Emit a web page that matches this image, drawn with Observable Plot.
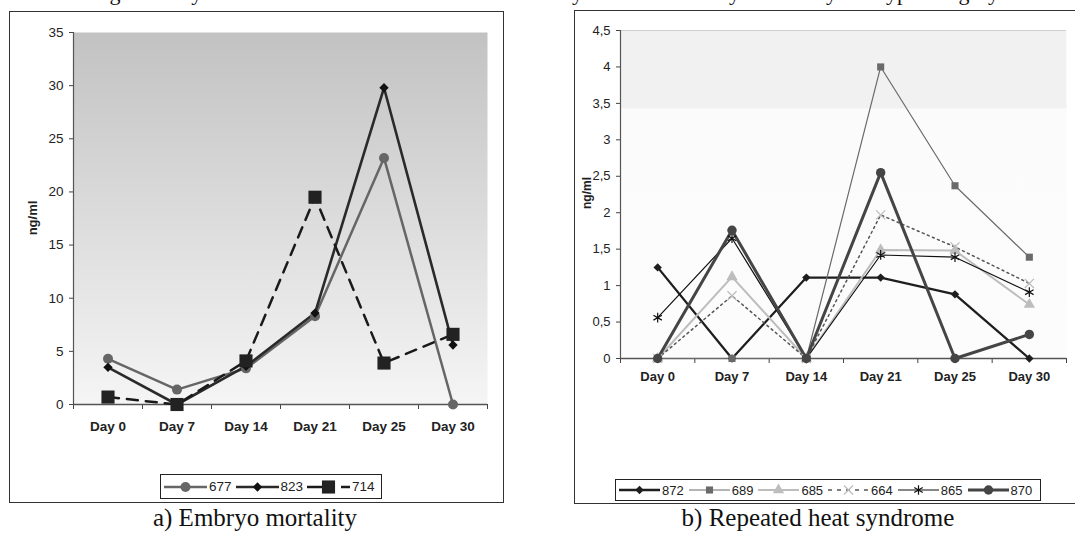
<!DOCTYPE html>
<html><head><meta charset="utf-8">
<script src="https://cdn.jsdelivr.net/npm/d3@7"></script>
<script src="https://cdn.jsdelivr.net/npm/@observablehq/plot@0.6"></script>
<style>
body{margin:0;background:#fff;}
#root{position:relative;width:1075px;height:539px;overflow:hidden;font-family:"Liberation Sans",Arial,sans-serif;color:#222;}
.box{position:absolute;border:1.5px solid #333;box-sizing:border-box;}
.legend{position:absolute;border:1px solid #222;box-sizing:border-box;display:flex;align-items:center;background:#fff;padding-left:3px;}
.legend .item{display:flex;align-items:center;}
.legend svg{display:block;}
.ylab{position:absolute;font-weight:bold;transform:translate(-50%,-50%) rotate(-90deg);white-space:nowrap;}
.cap{position:absolute;font-family:"Liberation Serif","Times New Roman",serif;font-size:25px;white-space:nowrap;transform:translateX(-50%);color:#111;}
.plot{position:absolute;}
</style></head><body><div id="root"></div>
<script>
// ---- data ----
const days = ["Day 0","Day 7","Day 14","Day 21","Day 25","Day 30"];
const leftTicks = [0,5,10,15,20,25,30,35];
const rightTicks = [0,0.5,1,1.5,2,2.5,3,3.5,4,4.5];
// a) Embryo mortality
const v677 = [4.3, 1.4, 3.4, 8.3, 23.2, 0];
const v823 = [3.5, 0, 3.6, 8.6, 29.8, 5.6];
const v714 = [0.7, 0, 4.1, 19.5, 3.9, 6.6];
// b) Repeated heat syndrome
const v872 = [1.25, 0, 1.11, 1.11, 0.88, 0];
const v689 = [0, 0, 0, 4.0, 2.37, 1.39];
const v685 = [0, 1.12, 0, 1.49, 1.48, 0.74];
const v664 = [0, 0.86, 0, 1.97, 1.53, 1.03];
const v865 = [0.56, 1.65, 0, 1.42, 1.39, 0.91];
const v870 = [0, 1.76, 0, 2.55, 0, 0.33];

const leftSeries = [
  {name:"677", values:v677, stroke:"#666", width:2.5, dash:null, symbol:"circle", r:5, fill:"#666", mstroke:"none"},
  {name:"823", values:v823, stroke:"#2a2a2a", width:2.6, dash:null, symbol:"diamond2", r:4.2, fill:"#111", mstroke:"none"},
  {name:"714", values:v714, stroke:"#1a1a1a", width:2.5, dash:"11,8", symbol:"square", r:7.4, fill:"#222", mstroke:"none"}
];
const rightSeries = [
  {name:"872", values:v872, stroke:"#1e1e1e", width:2.3, dash:null, symbol:"diamond2", r:3.8, fill:"#1e1e1e", mstroke:"none"},
  {name:"689", values:v689, stroke:"#6a6a6a", width:1.2, dash:null, symbol:"square", r:4, fill:"#6a6a6a", mstroke:"none"},
  {name:"685", values:v685, stroke:"#bdbdbd", width:2, dash:null, symbol:"triangle", r:4.2, fill:"#bdbdbd", mstroke:"none"},
  {name:"664", values:v664, stroke:"#555", width:1.5, dash:"2,3.5", symbol:"times", r:4.2, fill:"none", mstroke:"#bbb"},
  {name:"865", values:v865, stroke:"#111", width:1.2, dash:null, symbol:"asterisk", r:4.6, fill:"none", mstroke:"#111"},
  {name:"870", values:v870, stroke:"#454545", width:3, dash:null, symbol:"circle", r:4.7, fill:"#454545", mstroke:"none"}
];

const root = d3.select("#root");
const symMap = {circle:d3.symbolCircle, diamond2:d3.symbolDiamond2, square:d3.symbolSquare, triangle:d3.symbolTriangle, times:d3.symbolTimes, asterisk:d3.symbolAsterisk};
const boundaries = d3.range(days.length + 1).map(i => i - 0.5);

function seriesMarks(list){
  const marks = [];
  for (const s of list) {
    const data = days.map((d,i) => ({i, v:s.values[i]}));
    marks.push(Plot.line(data, {x:"i", y:"v", stroke:s.stroke, strokeWidth:s.width, strokeDasharray:s.dash || undefined}));
  }
  for (const s of list) {
    const data = days.map((d,i) => ({i, v:s.values[i]}));
    marks.push(Plot.dot(data, {x:"i", y:"v", symbol:s.symbol, r:s.r, fill:s.fill, stroke:s.mstroke, strokeWidth:1.2}));
  }
  return marks;
}

function makeChart(cfg){
  const chart = Plot.plot({
    width: cfg.width, height: cfg.height,
    marginLeft: cfg.ml, marginRight: cfg.mr, marginTop: cfg.mt, marginBottom: cfg.mb,
    x: {type:"linear", domain:[-0.5, days.length - 0.5]},
    y: {domain: cfg.ydomain},
    style: {fontFamily:'"Liberation Sans", Arial, sans-serif', fontSize: cfg.fontSize + "px", background:"transparent", color:"#222", overflow:"visible"},
    marks: [
      Plot.frame({fill:`url(#${cfg.grad})`, stroke:null}),
      ...(cfg.topRule ? [Plot.ruleY([cfg.ydomain[1]], {stroke:"#cfcfcf"})] : []),
      Plot.axisY({ticks: cfg.yticks, tickSize: 4, tickPadding: 6, tickFormat: cfg.yfmt, label:null, stroke:"#444"}),
      Plot.axisX({ticks: boundaries, tickSize: 5, tickFormat: () => "", label:null, stroke:"#444"}),
      Plot.axisX({ticks: d3.range(days.length), tickSize: 0, tickPadding: cfg.xpad, tickFormat: i => days[i], fontWeight:"bold", fontSize: cfg.xFont, label:null}),
      Plot.ruleX([-0.5], {stroke:"#555", strokeWidth:1.2}),
      Plot.ruleY([0], {stroke:"#555", strokeWidth:1.5}),
      ...seriesMarks(cfg.series)
    ]
  });
  const svg = d3.select(chart);
  const defs = svg.insert("defs", ":first-child");
  const g = defs.append("linearGradient").attr("id", cfg.grad).attr("x1",0).attr("y1",0).attr("x2",0).attr("y2",1);
  for (const st of cfg.stops) g.append("stop").attr("offset", st[0]).attr("stop-color", st[1]);
  chart.classList.add("plot");
  chart.style.left = cfg.left + "px";
  chart.style.top = cfg.top + "px";
  root.node().appendChild(chart);
}

function makeLegend(list, box, swW, fontSize, gap){
  const lg = root.append("div").attr("class","legend")
    .style("left", box[0]+"px").style("top", box[1]+"px").style("width", box[2]+"px").style("height", box[3]+"px")
    .style("font-size", fontSize+"px");
  for (const s of list) {
    const it = lg.append("div").attr("class","item").style("margin-right", gap+"px");
    const sv = it.append("svg").attr("width", swW).attr("height", 18);
    sv.append("line").attr("x1",0).attr("x2",swW).attr("y1",9).attr("y2",9)
      .attr("stroke", s.stroke).attr("stroke-width", s.width).attr("stroke-dasharray", s.dash ? (s.name==="714" ? "28,6" : "4,5") : null);
    sv.append("path").attr("transform", `translate(${swW/2},9)`)
      .attr("d", d3.symbol().type(symMap[s.symbol]).size(Math.PI*s.r*s.r)())
      .attr("fill", s.fill).attr("stroke", s.mstroke).attr("stroke-width", 1.2);
    it.append("span").text(s.name).style("margin-left","2px");
  }
}

// figure title at top (mostly cut off by the page edge, as in the source)
root.append("div").attr("class","cap").style("left","545px").style("top","-20px").style("font-size","22px")
  .text("Fig. 1. Daily values of P4 serum concentrations in dairy cows with embryo mortality and type category");

// panel boxes
root.append("div").attr("class","box").style("left","9px").style("top","11px").style("width","495px").style("height","492px");
root.append("div").attr("class","box").style("left","574px").style("top","10px").style("width","520px").style("height","494px");

makeChart({left:0, top:0, width:503, height:450, ml:73, mr:16, mt:32, mb:46, ydomain:[0,35], yticks:leftTicks,
  yfmt: d => String(d), xpad: 17, fontSize: 13.5, xFont: 13.5, grad:"gradL",
  stops:[[0,"#c2c2c2"],[0.5,"#dcdcdc"],[1,"#f5f5f5"]], series:leftSeries});
makeChart({left:540, top:0, width:535, height:400, ml:80, mr:9, mt:30, mb:42, ydomain:[0,4.5], yticks:rightTicks,
  yfmt: d => String(d).replace(".", ","), xpad: 13, fontSize: 13, xFont: 13, grad:"gradR", topRule:true,
  stops:[[0,"#f1f1f1"],[0.235,"#f1f1f1"],[0.24,"#fbfbfb"],[1,"#fcfcfc"]], series:rightSeries});

// axis titles
root.append("div").attr("class","ylab").style("left","32px").style("top","218px").style("font-size","13px").text("ng/ml");
root.append("div").attr("class","ylab").style("left","587px").style("top","193px").style("font-size","12px").text("ng/ml");

// legends
makeLegend(leftSeries, [160,474,222,25], 43, 13.5, 4);
makeLegend(rightSeries, [615,479,426,22], 41, 13, 5);

// captions
root.append("div").attr("class","cap").style("left","255px").style("top","504px").text("a) Embryo mortality");
root.append("div").attr("class","cap").style("left","818px").style("top","504px").text("b) Repeated heat syndrome");
</script></body></html>
